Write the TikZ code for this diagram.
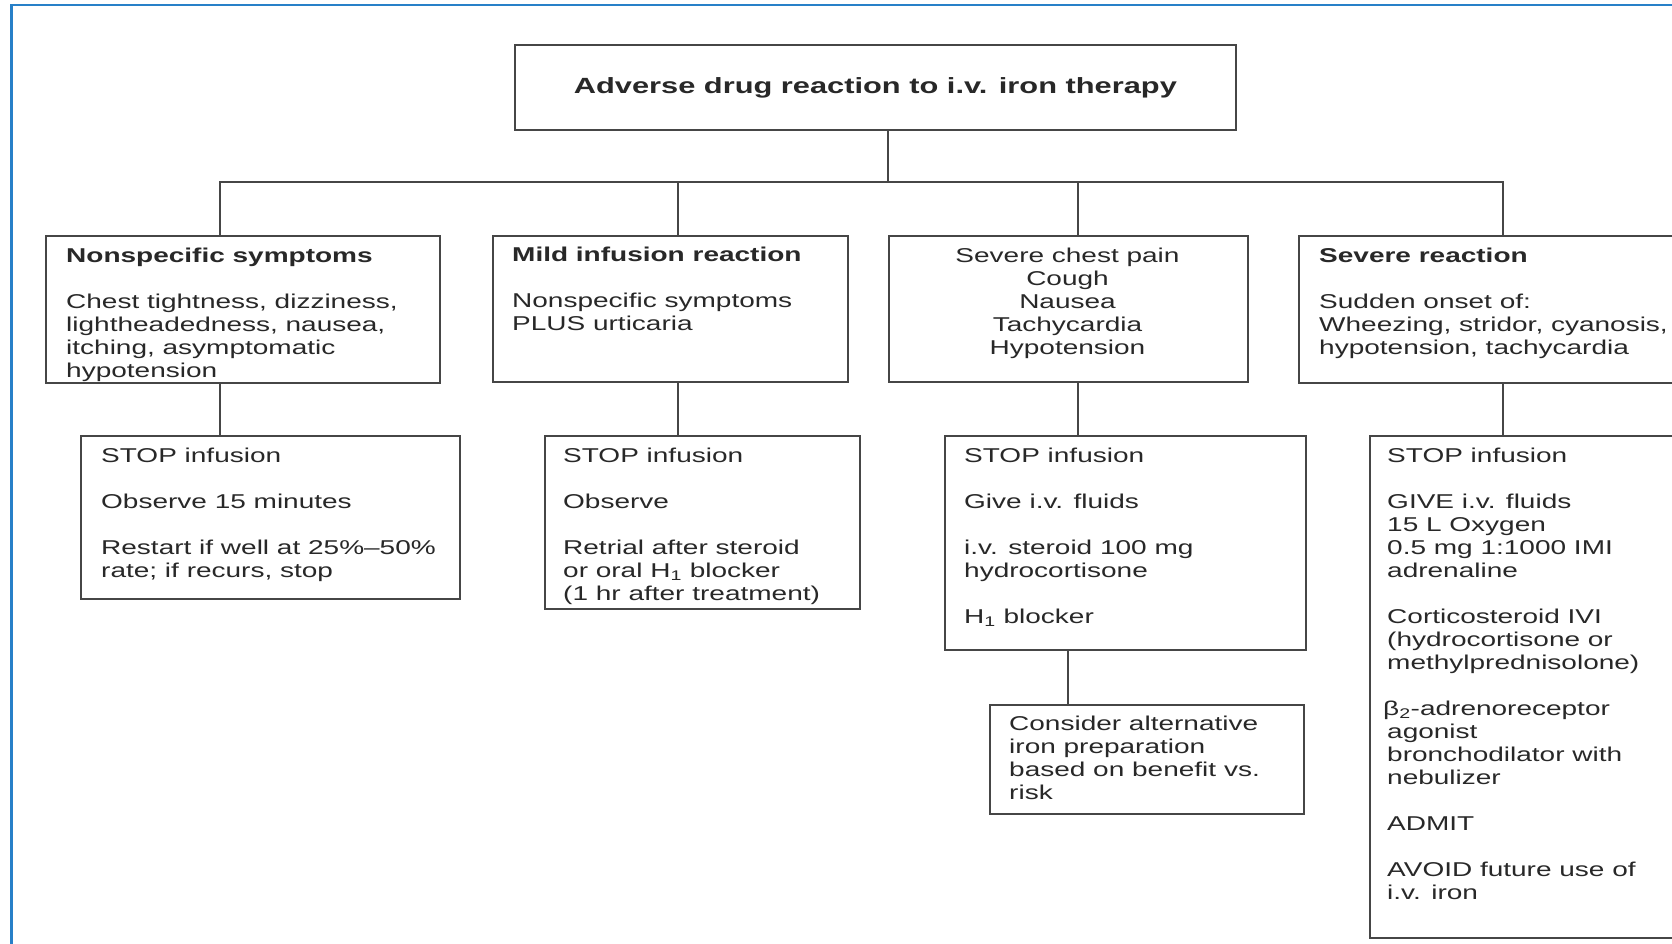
\documentclass[tikz,border=0pt]{standalone}
\usepackage{fontspec}
\setmainfont{Liberation Sans}[FakeStretch=1.40]
\definecolor{frameblue}{RGB}{40,128,200}
\definecolor{linegray}{RGB}{70,70,70}
\definecolor{textgray}{RGB}{40,40,40}
\newcommand{\bodyfont}{\fontsize{20}{23}\selectfont}
% left-aligned text block whose reference point is the first baseline
\newcommand{\lblock}[1]{\parbox[t]{520pt}{\raggedright\bodyfont #1}}
\newcommand{\cblock}[2]{\parbox[t]{#1}{\centering\bodyfont #2}}
\begin{document}
\begin{tikzpicture}[x=1pt,y=-1pt,
  frame/.style={draw=linegray, line width=1.8pt, inner sep=0pt, anchor=north west, fill=white},
  txt/.style={inner sep=0pt, anchor=base west, text=textgray},
  link/.style={draw=linegray, line width=1.8pt}]
\useasboundingbox (0,0) rectangle (1672,943);
\clip (0,0) rectangle (1672,943);
\fill[white] (0,0) rectangle (1672,943);
% outer blue frame
\draw[frameblue, line width=2.4pt] (11.5,5) rectangle (1700,970);

% title
\node[frame, minimum width=721pt, minimum height=85pt, text=textgray,
      font=\fontsize{22}{26}\selectfont\bfseries] (title) at (514,44)
      {Adverse drug reaction to i.v. iron therapy};

% first level boxes
\node[frame, minimum width=394pt, minimum height=147pt] (n1) at (45,235) {};
\node[frame, minimum width=355pt, minimum height=146pt] (n2) at (492,235) {};
\node[frame, minimum width=359pt, minimum height=146pt] (n3) at (888,235) {};
\node[frame, minimum width=420pt, minimum height=147pt] (n4) at (1298,235) {};

% second level boxes
\node[frame, minimum width=379pt, minimum height=163pt] (n5) at (80,435) {};
\node[frame, minimum width=315pt, minimum height=173pt] (n6) at (544,435) {};
\node[frame, minimum width=361pt, minimum height=214pt] (n7) at (944,435) {};
\node[frame, minimum width=400pt, minimum height=502pt] (n8) at (1369,435) {};
\node[frame, minimum width=314pt, minimum height=109pt] (n9) at (989,704) {};

% texts
\node[txt] (t1) at (66,262) {\lblock{\bfseries Nonspecific symptoms\\[23pt]
  \mdseries Chest tightness, dizziness,\\ lightheadedness, nausea,\\ itching, asymptomatic\\ hypotension}};
\node[txt] (t2) at (512,261) {\lblock{\bfseries Mild infusion reaction\\[23pt]
  \mdseries Nonspecific symptoms\\ PLUS urticaria}};
\node[inner sep=0pt, anchor=base, text=textgray] (t3) at (1067.5,262)
  {\cblock{359pt}{Severe chest pain\\ Cough\\ Nausea\\ Tachycardia\\ Hypotension}};
\node[txt] (t4) at (1319,262) {\lblock{\bfseries Severe reaction\\[23pt]
  \mdseries Sudden onset of:\\ Wheezing, stridor, cyanosis,\\ hypotension, tachycardia}};

\node[txt] (t5) at (101,462) {\lblock{STOP infusion\\[23pt] Observe 15 minutes\\[23pt]
  Restart if well at 25\%--50\%\\ rate; if recurs, stop}};
\node[txt] (t6) at (563,462) {\lblock{STOP infusion\\[23pt] Observe\\[23pt]
  Retrial after steroid\\ or oral H\textsubscript{1} blocker\\ (1 hr after treatment)}};
\node[txt] (t7) at (964,462) {\lblock{STOP infusion\\[23pt] Give i.v. fluids\\[23pt]
  i.v. steroid 100 mg\\ hydrocortisone\\[23pt] H\textsubscript{1} blocker}};
\node[txt] (t8) at (1387,462) {\lblock{STOP infusion\\[23pt]
  GIVE i.v. fluids\\ 15 L Oxygen\\ 0.5 mg 1:1000 IMI\\ adrenaline\\[23pt]
  Corticosteroid IVI\\ (hydrocortisone or\\ methylprednisolone)\\[23pt]
  \hspace*{-4pt}β\textsubscript{2}-adrenoreceptor\\ agonist\\ bronchodilator with\\ nebulizer\\[23pt]
  ADMIT\\[23pt]
  AVOID future use of\\ i.v. iron}};
\node[txt] (t9) at (1009,730) {\lblock{Consider alternative\\ iron preparation\\
  based on benefit vs.\\ risk}};

% connector junctions
\coordinate (j0) at (888,182);
\coordinate (j1) at (220,182);
\coordinate (j2) at (678,182);
\coordinate (j3) at (1078,182);
\coordinate (j4) at (1503,182);
\coordinate (k7) at (1068,649);

\draw[link] (title.south -| j0) -- (j0);
\draw[link] (j1 |- n1.north) -- (j1) -- (j4) -- (j4 |- n4.north);
\draw[link] (j2) -- (j2 |- n2.north);
\draw[link] (j3) -- (j3 |- n3.north);

\draw[link] (n1.south -| j1) -- (n5.north -| j1);
\draw[link] (n2.south -| j2) -- (n6.north -| j2);
\draw[link] (n3.south -| j3) -- (n7.north -| j3);
\draw[link] (n4.south -| j4) -- (n8.north -| j4);
\draw[link] (n7.south -| k7) -- (n9.north -| k7);
\end{tikzpicture}
\end{document}
